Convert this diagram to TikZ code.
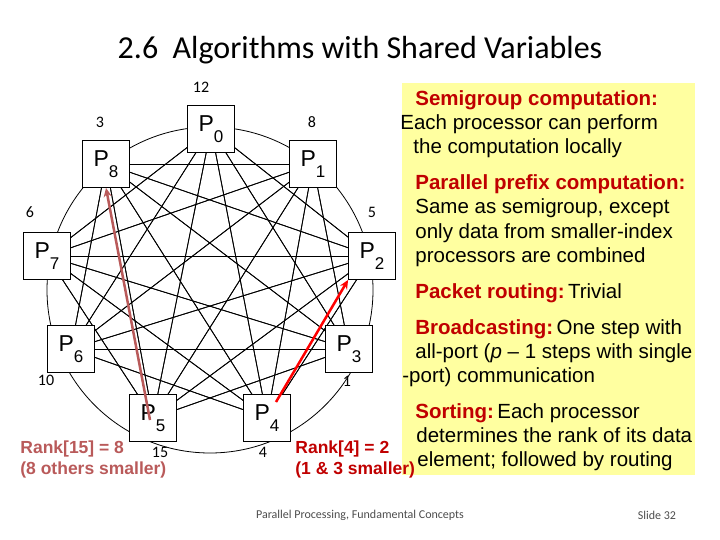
\documentclass[tikz,border=0pt]{standalone}
\usepackage{fontspec}
\setmainfont{Liberation Sans}
\newfontfamily\carl{Carlito}
\usetikzlibrary{arrows.meta}
\definecolor{hd}{RGB}{192,0,0}
\definecolor{brn}{RGB}{185,90,90}
\definecolor{pan}{RGB}{255,255,160}
\begin{document}
\begin{tikzpicture}[x=1pt,y=-1pt,line width=0.8pt,
  proc/.style={draw,fill=white,minimum size=47pt,inner sep=0pt,font=\fontsize{23}{23}\selectfont},
  num/.style={font=\carl\fontsize{16}{16}\selectfont},
  tx/.style={anchor=base west,inner sep=0pt,font=\fontsize{20.5}{22}\selectfont},
  rk/.style={anchor=base west,inner sep=0pt,font=\bfseries\fontsize{17.5}{18}\selectfont}]
\useasboundingbox (0,0) rectangle (720,540);
\node[font=\carl\fontsize{32}{33}\selectfont] (title) at (360,50) {2.6\ \ Algorithms with Shared Variables};
\fill[pan] (402,83) rectangle (695,475);
\coordinate (c) at (210,290);
\draw (c) circle (163);
\foreach \i/\x/\y in {0/211/129,1/313/164,2/372/256,3/349/349,4/267/418,5/153/418,6/71/349,7/47/256,8/106/164}
  \coordinate (q\i) at (\x,\y);
\foreach \i in {0,...,8}{\foreach \j in {0,...,8}{
  \pgfmathtruncatemacro\d{mod(\j-\i+9,9)}
  \ifnum\d>1 \ifnum\d<8 \draw (q\i) -- (q\j); \fi\fi}}
\foreach \i in {0,...,8}
  \node[proc] (p\i) at (q\i) {P\raisebox{-11pt}{\fontsize{17}{17}\selectfont\i}};
\node[num] (n0) at (201,87) {12};
\node[num] (n8) at (100,122) {3};
\node[num] (n1) at (312,122) {8};
\node[num] (n7) at (30,212) {6};
\node[num] (n2) at (372,212) {5};
\node[num] (n6) at (46,380) {10};
\node[num] (n3) at (347,381) {1};
\node[num] (n5) at (160,452) {15};
\node[num] (n4) at (263,452) {4};
\coordinate (a1) at (150,420);
\coordinate (a2) at (276,402);
\draw[brn,line width=2.5pt,-{Stealth[length=9pt,width=8pt]}] (a1) -- (p8.south);
\draw[red,line width=2.5pt,-{Stealth[length=9pt,width=8pt]}] (a2) -- (p2.south west);
\node[rk,brn] (r1) at (20,453) {Rank[15] = 8};
\node[rk,brn] (r2) at (20,474) {(8 others smaller)};
\node[rk,hd] (r3) at (295,453) {Rank[4] = 2};
\node[rk,hd] (r4) at (295,474) {(1 \& 3 smaller)};
\node[tx] (t1) at (415,106) {\textcolor{hd}{\bfseries Semigroup computation:}};
\node[tx] (t2) at (400,130) {Each processor can perform};
\node[tx] (t3) at (413,154) {the computation locally};
\node[tx] (t4) at (415,190) {\textcolor{hd}{\bfseries Parallel prefix computation:}};
\node[tx] (t5) at (415,214) {Same as semigroup, except};
\node[tx] (t6) at (415,238) {only data from smaller-index};
\node[tx] (t7) at (415,262) {processors are combined};
\node[tx] (t8) at (415,298) {\textcolor{hd}{\bfseries Packet routing:}\,Trivial};
\node[tx] (t9) at (415,334) {\textcolor{hd}{\bfseries Broadcasting:}\,One step with};
\node[tx] (t10) at (415,358) {all-port (\textit{p} -- 1 steps with single};
\node[tx] (t11) at (402,382) {-port) communication};
\node[tx] (t12) at (415,418) {\textcolor{hd}{\bfseries Sorting:}\,Each processor};
\node[tx] (t13) at (416,442) {determines the rank of its data};
\node[tx] (t14) at (417,466) {element; followed by routing};
\node[font=\carl\fontsize{12}{13}\selectfont,text=black!70] (f1) at (360,515) {Parallel Processing, Fundamental Concepts};
\node[font=\carl\fontsize{12}{13}\selectfont,text=black!70] (f2) at (657,515) {Slide 32};
\end{tikzpicture}
\end{document}
